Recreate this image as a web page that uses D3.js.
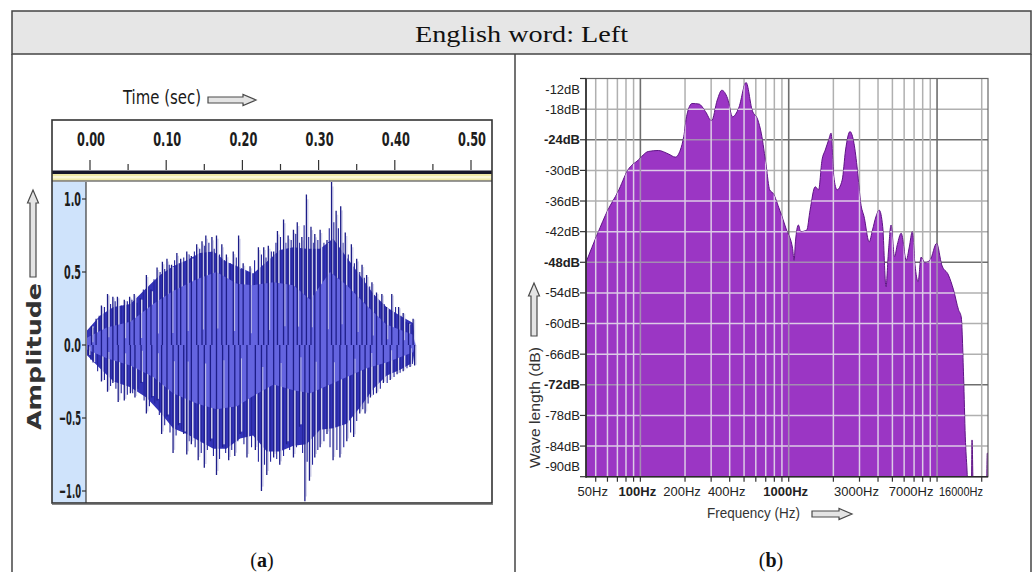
<!DOCTYPE html>
<html><head><meta charset="utf-8">
<script src="https://cdn.jsdelivr.net/npm/d3@7"></script>
<style>body{margin:0;background:#fff;}</style>
</head><body>
<svg id="c" width="1036" height="572"></svg>
<script>
// ---------------- DATA ----------------
const title = "English word: Left";
const captions = ["a", "b"];
// Panel (a): waveform
const timeTicks = [0, 0.1, 0.2, 0.3, 0.4, 0.5];
const timeMinorTicks = [0.05, 0.15, 0.25, 0.35, 0.45];
const ampTicks = [1.0, 0.5, 0.0, -0.5, -1.0];
const bandT = [-0.004, 0.013, 0.031, 0.053, 0.074, 0.092, 0.109, 0.127, 0.144, 0.162, 0.179, 0.197, 0.214, 0.232, 0.249, 0.267, 0.284, 0.302, 0.319, 0.337, 0.354, 0.372, 0.389, 0.407, 0.424, 0.427];
const bandUpper = [0.10, 0.20, 0.26, 0.28, 0.39, 0.48, 0.54, 0.58, 0.63, 0.64, 0.57, 0.53, 0.49, 0.57, 0.65, 0.67, 0.66, 0.66, 0.73, 0.60, 0.48, 0.35, 0.26, 0.20, 0.15, 0.0];
const bandLower = [-0.07, -0.16, -0.25, -0.29, -0.36, -0.46, -0.57, -0.61, -0.66, -0.71, -0.71, -0.64, -0.62, -0.73, -0.73, -0.69, -0.68, -0.58, -0.57, -0.54, -0.43, -0.30, -0.21, -0.17, -0.12, 0.0];
const coreT = [-0.004, 0.022, 0.053, 0.083, 0.109, 0.14, 0.166, 0.193, 0.214, 0.241, 0.267, 0.289, 0.315, 0.337, 0.363, 0.389, 0.424, 0.427];
const coreUpper = [0.05, 0.12, 0.16, 0.28, 0.37, 0.45, 0.50, 0.42, 0.41, 0.43, 0.41, 0.31, 0.50, 0.41, 0.27, 0.14, 0.07, 0.0];
const coreLower = [-0.03, -0.09, -0.14, -0.22, -0.33, -0.40, -0.44, -0.42, -0.35, -0.27, -0.31, -0.33, -0.27, -0.22, -0.16, -0.12, -0.05, 0.0];
const upSpikeT = [0.002, 0.008, 0.015, 0.023, 0.030, 0.036, 0.045, 0.052, 0.058, 0.066, 0.074, 0.080, 0.088, 0.095, 0.101, 0.107, 0.114, 0.119, 0.127, 0.133, 0.140, 0.147, 0.152, 0.160, 0.166, 0.173, 0.179, 0.188, 0.195, 0.201, 0.210, 0.221, 0.228, 0.234, 0.241, 0.246, 0.254, 0.260, 0.267, 0.272, 0.278, 0.284, 0.290, 0.295, 0.302, 0.311, 0.317, 0.323, 0.329, 0.335, 0.343, 0.350, 0.357, 0.363, 0.370, 0.376, 0.383, 0.389, 0.396, 0.405, 0.411, 0.418, 0.424];
const upSpikeA = [0.13, 0.18, 0.27, 0.35, 0.33, 0.33, 0.31, 0.33, 0.35, 0.32, 0.48, 0.38, 0.53, 0.57, 0.59, 0.55, 0.63, 0.59, 0.64, 0.61, 0.69, 0.71, 0.75, 0.74, 0.75, 0.69, 0.62, 0.64, 0.75, 0.56, 0.54, 0.67, 0.67, 0.68, 0.64, 0.78, 0.86, 0.75, 0.79, 0.84, 0.74, 1.03, 0.81, 0.76, 0.79, 0.72, 1.12, 0.92, 0.95, 0.77, 0.69, 0.59, 0.55, 0.48, 0.43, 0.36, 0.35, 0.26, 0.35, 0.26, 0.22, 0.15, 0.18];
const downSpikeT = [-0.002, 0.004, 0.015, 0.023, 0.030, 0.037, 0.045, 0.053, 0.059, 0.067, 0.074, 0.081, 0.088, 0.094, 0.101, 0.109, 0.116, 0.123, 0.127, 0.133, 0.142, 0.150, 0.158, 0.166, 0.174, 0.182, 0.190, 0.197, 0.206, 0.217, 0.225, 0.232, 0.241, 0.249, 0.258, 0.267, 0.275, 0.282, 0.288, 0.295, 0.302, 0.311, 0.319, 0.328, 0.337, 0.346, 0.354, 0.361, 0.368, 0.376, 0.385, 0.394, 0.403, 0.411, 0.420, 0.426];
const downSpikeA = [-0.07, -0.12, -0.25, -0.32, -0.26, -0.39, -0.38, -0.33, -0.36, -0.26, -0.47, -0.36, -0.38, -0.61, -0.49, -0.74, -0.55, -0.61, -0.75, -0.68, -0.79, -0.84, -0.66, -0.89, -0.70, -0.79, -0.76, -0.61, -0.77, -0.72, -1.0, -0.89, -0.77, -0.82, -0.68, -0.77, -0.56, -1.07, -0.93, -0.77, -0.70, -0.61, -0.79, -0.77, -0.66, -0.63, -0.47, -0.47, -0.36, -0.33, -0.26, -0.24, -0.20, -0.18, -0.15, -0.14];
const upMinorT = [0.005, 0.012, 0.019, 0.027, 0.033, 0.041, 0.049, 0.055, 0.062, 0.070, 0.077, 0.084, 0.092, 0.098, 0.104, 0.111, 0.117, 0.123, 0.130, 0.137, 0.144, 0.150, 0.156, 0.163, 0.170, 0.176, 0.184, 0.192, 0.198, 0.206, 0.216, 0.225, 0.231, 0.238, 0.244, 0.250, 0.257, 0.264, 0.270, 0.275, 0.281, 0.287, 0.293, 0.299, 0.307, 0.314, 0.320, 0.326, 0.332, 0.339, 0.347, 0.354, 0.360, 0.367, 0.373, 0.380, 0.386, 0.393, 0.401, 0.408, 0.415, 0.421];
const upMinorA = [0.12, 0.20, 0.26, 0.28, 0.30, 0.27, 0.30, 0.31, 0.29, 0.38, 0.40, 0.45, 0.50, 0.52, 0.55, 0.58, 0.56, 0.60, 0.62, 0.64, 0.66, 0.68, 0.70, 0.66, 0.62, 0.58, 0.56, 0.60, 0.52, 0.50, 0.58, 0.62, 0.60, 0.64, 0.70, 0.74, 0.70, 0.72, 0.76, 0.70, 0.82, 0.74, 0.70, 0.72, 0.70, 0.80, 0.84, 0.80, 0.70, 0.62, 0.56, 0.50, 0.46, 0.40, 0.34, 0.30, 0.28, 0.24, 0.26, 0.20, 0.16, 0.14];
const downMinorT = [0.001, 0.010, 0.019, 0.027, 0.034, 0.041, 0.049, 0.056, 0.063, 0.071, 0.078, 0.085, 0.091, 0.098, 0.105, 0.113, 0.120, 0.130, 0.138, 0.146, 0.154, 0.162, 0.170, 0.178, 0.186, 0.194, 0.202, 0.212, 0.221, 0.229, 0.237, 0.245, 0.254, 0.262, 0.271, 0.279, 0.285, 0.292, 0.299, 0.307, 0.315, 0.324, 0.333, 0.342, 0.350, 0.358, 0.365, 0.372, 0.381, 0.390, 0.399, 0.407, 0.416, 0.423];
const downMinorA = [-0.10, -0.18, -0.24, -0.28, -0.30, -0.33, -0.34, -0.33, -0.30, -0.38, -0.42, -0.40, -0.48, -0.55, -0.60, -0.62, -0.58, -0.66, -0.70, -0.74, -0.72, -0.76, -0.78, -0.74, -0.72, -0.66, -0.68, -0.70, -0.80, -0.82, -0.80, -0.78, -0.76, -0.72, -0.70, -0.74, -0.80, -0.82, -0.72, -0.66, -0.70, -0.72, -0.70, -0.60, -0.52, -0.44, -0.40, -0.34, -0.30, -0.26, -0.22, -0.19, -0.16, -0.13];
// Panel (b): spectrum
const dbTicks = [-12, -18, -24, -30, -36, -42, -48, -54, -60, -66, -72, -78, -84, -90];
const dbMajor = [-24, -48, -72];
const freqGrid = [50, 60, 70, 80, 90, 100, 200, 300, 400, 500, 600, 700, 800, 900, 1000, 2000, 3000, 4000, 5000, 6000, 7000, 8000, 9000, 10000, 20000];
const freqMajor = [100, 1000, 10000];
const freqLabels = [50, 100, 200, 400, 1000, 3000, 7000, 16000];
const specFreq = [43, 51.6, 60.3, 70.6, 82.5, 96.6, 113, 132, 155, 172, 186, 196, 206, 223, 248, 275, 302, 330, 354, 387, 418, 460, 516, 567, 619, 653, 706, 744, 785, 870, 967, 1062, 1087, 1110, 1162, 1204, 1323, 1393, 1508, 1590, 1676, 1764, 1860, 1930, 2013, 2118, 2293, 2417, 2588, 2754, 2904, 3057, 3223, 3487, 3670, 3869, 4078, 4300, 4527, 4700, 4898, 5166, 5400, 5732, 6202, 6500, 6810, 7100, 7453, 7800, 8268, 9000, 9931, 10750, 11930, 12910, 13950, 14550, 15100, 15500, 15920, 16300, 17000, 17210, 17600, 21500, 21800, 22050];
const specDb = [-48, -42.3, -37.8, -34.2, -29.9, -28.0, -26.3, -26.1, -26.8, -27.4, -26.0, -23.4, -19.1, -16.9, -17.0, -18.5, -20.3, -16.2, -14.3, -15.9, -19.5, -17.8, -12.8, -18.2, -20.1, -22.7, -29.3, -33.8, -34.5, -37.8, -41.7, -45.3, -47.6, -44, -40.7, -42.0, -41.7, -37.8, -33.2, -33.8, -28.0, -26.0, -24.0, -22.7, -31.2, -33.8, -31.9, -26.0, -22.4, -24.7, -29.9, -36.4, -39.1, -44.0, -41.7, -39.1, -37.8, -41.0, -52.8, -46.0, -40.7, -46.9, -44.5, -42.3, -47.6, -45.0, -42.0, -48.5, -51.8, -47.0, -48.1, -47.5, -44.3, -48.5, -50.5, -53.4, -57.3, -58.7, -70.4, -82.2, -88.7, -95, -95, -82.8, -95, -95, -85.4, -85.4];

// ---------------- DRAW ----------------
const svg = d3.select("#c");
const defs = svg.append("defs");
const SERIF = "'Liberation Serif','DejaVu Serif',serif";
const NARROW = "'Liberation Sans Narrow','DejaVu Sans Condensed',sans-serif";
const SANS = "'Liberation Sans',Arial,sans-serif";

// frame
svg.append("rect").attr("x", 12).attr("y", 11).attr("width", 1019).attr("height", 43)
  .attr("fill", "#e6e6e6").attr("stroke", "#444").attr("stroke-width", 1.5);
[[12, 54, 12, 572], [1031, 54, 1031, 572], [515, 54, 515, 572]].forEach(l =>
  svg.append("line").attr("x1", l[0]).attr("y1", l[1]).attr("x2", l[2]).attr("y2", l[3])
    .attr("stroke", "#444").attr("stroke-width", 1.5));
svg.append("text").attr("x", 521.5).attr("y", 42).attr("text-anchor", "middle")
  .attr("font-family", SERIF).attr("font-size", 24).attr("fill", "#111")
  .attr("textLength", 213).attr("lengthAdjust", "spacingAndGlyphs").text(title);
[262, 771].forEach((cx, i) => {
  const t = svg.append("text").attr("x", cx).attr("y", 567).attr("text-anchor", "middle")
    .attr("font-family", SERIF).attr("font-size", 20).attr("fill", "#111");
  t.append("tspan").text("(");
  t.append("tspan").attr("font-weight", "bold").text(captions[i]);
  t.append("tspan").text(")");
});

// block arrow helper (pointing along +x in local coords)
function blockArrow(g, len) {
  const h1 = 3, h2 = 5.5, hl = 13;
  g.append("path")
    .attr("d", `M0,${-h1}L${len - hl},${-h1}L${len - hl},${-h2}L${len},0L${len - hl},${h2}L${len - hl},${h1}L0,${h1}Z`)
    .attr("fill", "#e4e4e4").attr("stroke", "#4a4a4a").attr("stroke-width", 1.2);
}

// ---------- Panel (a) ----------
const A = {left: 52, right: 492, top: 120, plotTop: 182, bottom: 503, colRight: 86};
const xT = d3.scaleLinear().domain([0, 0.5]).range([90, 471]);
const yA = d3.scaleLinear().domain([-1, 1]).range([491, 199]);

svg.append("text").attr("x", 123).attr("y", 104).attr("font-family", NARROW).attr("font-size", 20)
  .attr("fill", "#1a1a1a").attr("textLength", 78).attr("lengthAdjust", "spacingAndGlyphs").text("Time (sec)");
blockArrow(svg.append("g").attr("transform", "translate(208,100)"), 48);

const ga = svg.append("g");
ga.append("rect").attr("x", A.left).attr("y", A.top).attr("width", A.right - A.left).attr("height", A.bottom - A.top)
  .attr("fill", "#fff");
ga.selectAll(".tmaj").data(timeTicks).join("line")
  .attr("x1", d => xT(d)).attr("x2", d => xT(d)).attr("y1", 160).attr("y2", 170)
  .attr("stroke", "#333").attr("stroke-width", 1.2);
ga.selectAll(".tmin").data(timeMinorTicks).join("line")
  .attr("x1", d => xT(d)).attr("x2", d => xT(d)).attr("y1", 164).attr("y2", 170)
  .attr("stroke", "#333").attr("stroke-width", 1.2);
ga.selectAll(".tlab").data(timeTicks).join("text")
  .attr("x", d => xT(d) + 1).attr("y", 146).attr("text-anchor", "middle")
  .attr("font-family", NARROW).attr("font-weight", "bold").attr("font-size", 19).attr("fill", "#1c1c1c")
  .attr("textLength", 28).attr("lengthAdjust", "spacingAndGlyphs")
  .text(d => d3.format(".2f")(d));
ga.append("rect").attr("x", A.left).attr("y", 170.5).attr("width", A.right - A.left).attr("height", 3.5).attr("fill", "#16162a");
ga.append("rect").attr("x", A.left).attr("y", 174).attr("width", A.right - A.left).attr("height", 6.5).attr("fill", "#efe8a6");
ga.append("rect").attr("x", A.left).attr("y", 176).attr("width", A.right - A.left).attr("height", 2.5).attr("fill", "#faf6d8");
ga.append("line").attr("x1", A.left).attr("x2", A.right).attr("y1", 181).attr("y2", 181).attr("stroke", "#333").attr("stroke-width", 1);
// amplitude column
ga.append("rect").attr("x", A.left).attr("y", A.plotTop).attr("width", A.colRight - A.left).attr("height", A.bottom - A.plotTop)
  .attr("fill", "#cfe3fb");
ga.append("line").attr("x1", A.colRight).attr("x2", A.colRight).attr("y1", A.plotTop).attr("y2", A.bottom)
  .attr("stroke", "#3a3a3a").attr("stroke-width", 1.2);
ga.selectAll(".alab").data(ampTicks).join("text")
  .attr("x", 81).attr("y", d => yA(d) + 7).attr("text-anchor", "end")
  .attr("font-family", NARROW).attr("font-weight", "bold").attr("font-size", 20).attr("fill", "#1c1c1c")
  .attr("textLength", d => d < 0 ? 22 : 17).attr("lengthAdjust", "spacingAndGlyphs")
  .text(d => d3.format(".1f")(d));
ga.selectAll(".atick").data(ampTicks).join("line")
  .attr("x1", 82).attr("x2", A.colRight).attr("y1", d => yA(d)).attr("y2", d => yA(d))
  .attr("stroke", "#333").attr("stroke-width", 1.2);

// waveform
defs.append("clipPath").attr("id", "clipA").append("rect")
  .attr("x", A.colRight + 0.5).attr("y", A.plotTop).attr("width", A.right - A.colRight).attr("height", A.bottom - A.plotTop);
const gw = ga.append("g").attr("clip-path", "url(#clipA)");
const band = bandT.map((t, i) => ({t, u: bandUpper[i], l: bandLower[i]}));
const core = coreT.map((t, i) => ({t, u: coreUpper[i], l: coreLower[i]}));
const area = d3.area().x(d => xT(d.t)).y0(d => yA(d.l)).y1(d => yA(d.u)).curve(d3.curveLinear);
gw.append("path").datum(band).attr("d", area).attr("fill", "#3434b8");
const spikes = upSpikeT.map((t, i) => ({t, a: upSpikeA[i]}))
  .concat(downSpikeT.map((t, i) => ({t, a: downSpikeA[i]})));
const minor = upMinorT.map((t, i) => ({t, a: upMinorA[i]}))
  .concat(downMinorT.map((t, i) => ({t, a: downMinorA[i]})));
gw.selectAll(".halo").data(spikes).join("line")
  .attr("x1", d => xT(d.t) + 1.4).attr("x2", d => xT(d.t) + 1.4).attr("y1", yA(0)).attr("y2", d => yA(d.a * 0.97))
  .attr("stroke", "#d6d6ec").attr("stroke-width", 1.5);
gw.selectAll(".mspk").data(minor).join("line")
  .attr("x1", d => xT(d.t)).attr("x2", d => xT(d.t)).attr("y1", yA(0)).attr("y2", d => yA(d.a))
  .attr("stroke", "#25259c").attr("stroke-width", 1.1);
gw.append("path").datum(core).attr("d", area).attr("fill", "#6464df");
gw.selectAll(".halo2").data(spikes.filter((d, i) => i % 3 === 0)).join("line")
  .attr("x1", d => xT(d.t) + 1.3).attr("x2", d => xT(d.t) + 1.3).attr("y1", d => yA(d.a * 0.15)).attr("y2", d => yA(d.a * 0.97))
  .attr("stroke", "#d4d4ea").attr("stroke-width", 1.2).attr("opacity", 0.75);
gw.selectAll(".spk").data(spikes).join("line")
  .attr("x1", d => xT(d.t)).attr("x2", d => xT(d.t)).attr("y1", yA(0)).attr("y2", d => yA(d.a))
  .attr("stroke", "#1d1d88").attr("stroke-width", 1.3);
// plot box border
ga.append("rect").attr("x", A.left).attr("y", A.top).attr("width", A.right - A.left).attr("height", A.bottom - A.top)
  .attr("fill", "none").attr("stroke", "#333").attr("stroke-width", 1.6);
ga.append("line").attr("x1", A.left).attr("x2", A.right + 1).attr("y1", A.bottom + 1.5).attr("y2", A.bottom + 1.5)
  .attr("stroke", "#888").attr("stroke-width", 1);

// Amplitude label + arrow
svg.append("text").attr("transform", "translate(41,430) rotate(-90)")
  .attr("font-family", "'DejaVu Sans',sans-serif").attr("font-weight", "bold").attr("font-size", 19).attr("fill", "#333")
  .attr("textLength", 147).attr("lengthAdjust", "spacingAndGlyphs").text("Amplitude");
blockArrow(svg.append("g").attr("transform", "translate(33,277) rotate(-90)"), 87);

// ---------- Panel (b) ----------
const B = {left: 586, right: 988, top: 78.5, bottom: 476.7};
const xF = d3.scaleLog().domain([43, 22050]).range([B.left, B.right]);
const yD = d3.scaleLinear().domain([-90, -12]).range([B.bottom, B.top]);
const gb = svg.append("g");
gb.append("rect").attr("x", B.left).attr("y", B.top).attr("width", B.right - B.left).attr("height", B.bottom - B.top).attr("fill", "#fff");

function gridLines(g, light) {
  const col = (maj) => maj ? (light ? "#a48cb2" : "#6e6e6e") : (light ? "#dccbe6" : "#b0b0b0");
  g.selectAll(".hg").data(dbTicks.slice(1, -1)).join("line")
    .attr("x1", B.left).attr("x2", B.right).attr("y1", d => yD(d)).attr("y2", d => yD(d))
    .attr("stroke", d => col(dbMajor.includes(d))).attr("stroke-width", d => dbMajor.includes(d) ? 1.6 : 1.5);
  g.selectAll(".vg").data(freqGrid).join("line")
    .attr("x1", d => xF(d)).attr("x2", d => xF(d)).attr("y1", B.top).attr("y2", B.bottom)
    .attr("stroke", d => col(freqMajor.includes(d))).attr("stroke-width", d => freqMajor.includes(d) ? 1.6 : 1.5);
}
gridLines(gb.append("g"), false);

defs.append("clipPath").attr("id", "clipB").append("rect")
  .attr("x", B.left).attr("y", B.top).attr("width", B.right - B.left).attr("height", B.bottom - B.top);
const spec = specFreq.map((f, i) => ({f, db: specDb[i]}));
const specArea = d3.area().x(d => xF(d.f)).y0(yD(-96)).y1(d => yD(d.db)).curve(d3.curveMonotoneX);
const gs = gb.append("g").attr("clip-path", "url(#clipB)");
gs.append("path").datum(spec).attr("d", specArea).attr("fill", "#9b36c4")
  .attr("stroke", "#5e1485").attr("stroke-width", 1);
defs.append("clipPath").attr("id", "clipSpec").append("path").datum(spec).attr("d", specArea);
gridLines(gs.append("g").attr("clip-path", "url(#clipSpec)"), true);

gb.append("rect").attr("x", B.left).attr("y", B.top).attr("width", B.right - B.left).attr("height", B.bottom - B.top)
  .attr("fill", "none").attr("stroke", "#666").attr("stroke-width", 1.2);
gb.append("line").attr("x1", B.left).attr("x2", B.left).attr("y1", B.top).attr("y2", B.bottom + 1).attr("stroke", "#2a2a2a").attr("stroke-width", 1.6);
gb.append("line").attr("x1", B.left).attr("x2", B.right).attr("y1", B.bottom).attr("y2", B.bottom).attr("stroke", "#2a2a2a").attr("stroke-width", 1.6);
gb.selectAll(".yt").data(dbTicks).join("line")
  .attr("x1", B.left - 6).attr("x2", B.left).attr("y1", d => yD(d)).attr("y2", d => yD(d)).attr("stroke", "#333").attr("stroke-width", 1.2);
gb.selectAll(".yl").data(dbTicks).join("text")
  .attr("x", 580).attr("y", d => Math.max(B.top + 10.5, Math.min(B.bottom - 10, yD(d))) + 4.5)
  .attr("text-anchor", "end").attr("font-family", SANS).attr("font-size", 13)
  .attr("font-weight", d => dbMajor.includes(d) ? "bold" : "normal").attr("fill", "#222")
  .text(d => d + "dB");
gb.selectAll(".xt").data(freqGrid).join("line")
  .attr("x1", d => xF(d)).attr("x2", d => xF(d)).attr("y1", B.bottom).attr("y2", B.bottom + 5).attr("stroke", "#333").attr("stroke-width", 1.2);
gb.selectAll(".xl").data(freqLabels).join("text")
  .attr("y", 496).attr("text-anchor", "middle").attr("font-family", SANS).attr("font-size", 13)
  .attr("font-weight", d => freqMajor.includes(d) ? "bold" : "normal").attr("fill", "#222")
  .text(d => d + "Hz")
  .each(function() {
    const w = this.getComputedTextLength();
    if (w > 46) d3.select(this).attr("textLength", 44).attr("lengthAdjust", "spacingAndGlyphs");
  })
  .attr("x", function(d) { const w = Math.min(this.getComputedTextLength(), 44); return Math.min(xF(d) - 3, B.right - 5 - w / 2); });

svg.append("text").attr("x", 707).attr("y", 518).attr("font-family", SANS).attr("font-size", 14.5).attr("fill", "#333")
  .attr("textLength", 93).attr("lengthAdjust", "spacingAndGlyphs").text("Frequency (Hz)");
blockArrow(svg.append("g").attr("transform", "translate(812,514)"), 40);
svg.append("text").attr("transform", "translate(540,468) rotate(-90)").attr("font-family", SANS).attr("font-size", 15).attr("fill", "#333")
  .attr("textLength", 121).attr("lengthAdjust", "spacingAndGlyphs").text("Wave length (dB)");
blockArrow(svg.append("g").attr("transform", "translate(534,336) rotate(-90)"), 53);
</script>
</body></html>
